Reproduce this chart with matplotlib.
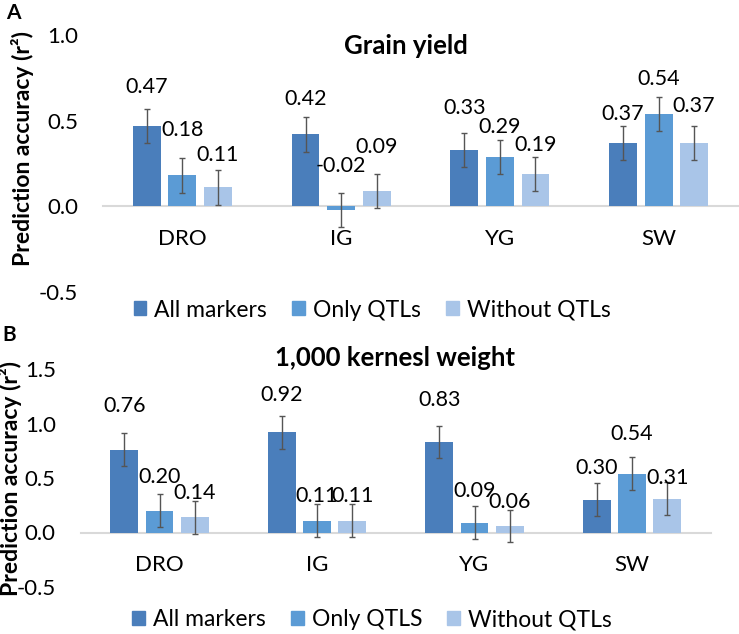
import numpy as np
import matplotlib
matplotlib.use("Agg")
import matplotlib.pyplot as plt
from matplotlib.patches import Patch

plt.rcParams['font.family'] = ['Lato', 'DejaVu Sans']

# —————— data ——————
categories = ['DRO', 'IG', 'YG', 'SW']
series_names_a = ['All markers', 'Only QTLs', 'Without QTLs']
series_names_b = ['All markers', 'Only QTLS', 'Without QTLs']

gy_all = [0.47, 0.42, 0.33, 0.37]
gy_qtl = [0.18, -0.02, 0.29, 0.54]
gy_wo = [0.11, 0.09, 0.19, 0.37]
gy_err = [0.10, 0.10, 0.10, 0.10]

kw_all = [0.76, 0.92, 0.83, 0.30]
kw_qtl = [0.20, 0.11, 0.09, 0.54]
kw_wo = [0.14, 0.11, 0.06, 0.31]
kw_err = [0.15, 0.15, 0.15, 0.15]

# —————— style ——————
COLORS = ['#4A7EBB', '#5B9BD5', '#A9C5E8']
ERR_COLOR = '#555555'
AXIS_COLOR = '#D9D9D9'
FS_VAL = 15.5
FS_TICK = 16
FS_LEG = 16.5
FS_TITLE = 18.5

# label nudges (pixels above bar end), per series then per category
nudge_a = [[39, 35, 42, 29], [45, 44, 30, 35], [32, 44, 29, 37]]
nudge_b = [[44, 37, 42, 32], [34, 25, 32, 40], [24, 25, 24, 21]]


def draw_panel(ax, series, err, ylim, yticks, nudges):
    x = np.arange(len(categories))
    width = 0.175
    step = 0.224
    for i, vals in enumerate(series):
        xs = x + (i - 1) * step
        ax.bar(xs, vals, width, color=COLORS[i], zorder=2)
        ax.errorbar(xs, vals, yerr=err, fmt='none', ecolor=ERR_COLOR,
                    elinewidth=1, capsize=2.5, capthick=1, zorder=3)
        for xi, v, n in zip(xs, vals, nudges[i]):
            ax.annotate(f"{v:.2f}", (xi, v), xytext=(0, n),
                        textcoords='offset pixels', ha='center',
                        va='center', fontsize=FS_VAL, color='#000000')
    ax.set_xlim(-0.5, len(categories) - 0.5)
    ax.set_ylim(*ylim)
    ax.set_yticks(yticks)
    ax.set_yticklabels([f"{t:.1f}" for t in yticks])
    ax.set_xticks(x)
    ax.set_xticklabels(categories)
    for s in ['left', 'right', 'top']:
        ax.spines[s].set_visible(False)
    ax.spines['bottom'].set_position(('data', 0))
    ax.spines['bottom'].set_color(AXIS_COLOR)
    ax.spines['bottom'].set_linewidth(1.5)
    ax.spines['bottom'].set_zorder(1)
    ax.tick_params(axis='x', length=0, pad=16, labelsize=FS_TICK)
    ax.tick_params(axis='y', length=0, pad=18, labelsize=FS_TICK)


fig = plt.figure(figsize=(7.39, 6.34), dpi=100)

ax_a = fig.add_axes([103 / 739, 1 - 292 / 634, 635 / 739, 257 / 634])
draw_panel(ax_a, [gy_all, gy_qtl, gy_wo], gy_err, (-0.5, 1.0),
           [-0.5, 0.0, 0.5, 1.0], nudge_a)

ax_b = fig.add_axes([80.75 / 739, 1 - 587 / 634, 630 / 739, 218 / 634])
draw_panel(ax_b, [kw_all, kw_qtl, kw_wo], kw_err, (-0.5, 1.5),
           [-0.5, 0.0, 0.5, 1.0, 1.5], nudge_b)

# titles
fig.text(406 / 739, 1 - 54 / 634, 'Grain yield', ha='center', va='baseline',
         fontsize=FS_TITLE, fontweight='bold')
fig.text(395 / 739, 1 - 366 / 634, '1,000 kernesl weight', ha='center',
         va='baseline', fontsize=FS_TITLE, fontweight='bold')

# y labels
fig.text(23 / 739, 1 - 148 / 634, 'Prediction accuracy (r²)', rotation=90,
         ha='center', va='center', fontsize=16.5, fontweight='bold')
fig.text(11 / 739, 1 - 478 / 634, 'Prediction accuracy (r²)', rotation=90,
         ha='center', va='center', fontsize=16.5, fontweight='bold')

# panel letters
fig.text(13 / 739, 1 - 13 / 634, 'A', ha='center', va='center',
         fontsize=15, fontweight='bold')
fig.text(9 / 739, 1 - 335 / 634, 'B', ha='center', va='center',
         fontsize=15, fontweight='bold')

# legends
for names, yc in [(series_names_a, 310), (series_names_b, 620)]:
    handles = [Patch(color=c, label=n) for c, n in zip(COLORS, names)]
    fig.legend(handles=handles, loc='center', ncol=3, frameon=False,
               bbox_to_anchor=(372 / 739, 1 - yc / 634), fontsize=FS_LEG,
               handlelength=0.55, handleheight=0.55, handletextpad=0.35,
               columnspacing=1.1, borderpad=0, borderaxespad=0)

fig.savefig('out.png', dpi=100)
